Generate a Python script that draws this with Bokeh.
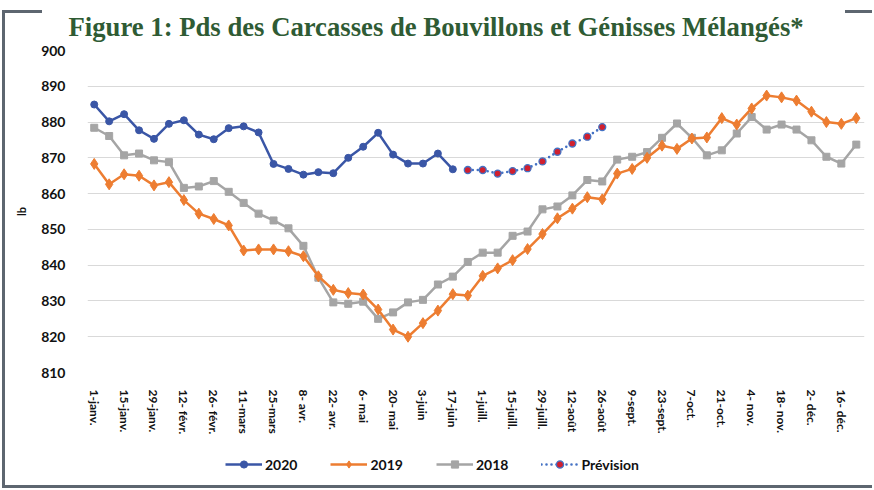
import numpy as np
from bokeh.plotting import figure
from bokeh.layouts import column
from bokeh.models import FixedTicker, Legend, LegendItem
from bokeh.embed import file_html
from bokeh.resources import INLINE

TITLE = "Figure 1: Pds des Carcasses de Bouvillons et Génisses Mélangés*"

tick_labels = ["1-janv.", "15-janv.", "29-janv.", "12- févr.", "26- févr.", "11-mars",
               "25-mars", "8- avr.", "22- avr.", "6- mai", "20- mai", "3-juin", "17-juin",
               "1-juill.", "15-juill.", "29-juill.", "12-août", "26-août", "9-sept.",
               "23-sept.", "7-oct.", "21-oct.", "4- nov.", "18- nov.", "2- déc.", "16- déc."]

y_ticks = [810, 820, 830, 840, 850, 860, 870, 880, 890, 900]

y2020 = [884.9, 880.2, 882.2, 877.7, 875.3, 879.5, 880.5, 876.5, 875.2, 878.3,
         878.8, 877.1, 868.3, 866.9, 865.3, 866.0, 865.7, 870.0, 873.1, 877.0,
         870.9, 868.4, 868.4, 871.2, 866.8]

prevision = [866.6, 866.6, 865.6, 866.3, 867.1, 869.0, 871.7, 874.0, 875.9, 878.6]

y2019 = [868.3, 862.6, 865.4, 865.0, 862.3, 863.2, 858.2, 854.4, 852.9, 851.1,
         844.1, 844.4, 844.4, 843.9, 842.5, 836.9, 833.1, 832.2, 831.8, 827.6,
         822.0, 820.0, 823.8, 827.3, 831.9, 831.5, 837.0, 839.1, 841.4, 844.5,
         848.7, 853.1, 855.8, 859.0, 858.4, 865.6, 866.9, 870.0, 873.4, 872.5,
         875.4, 875.7, 881.1, 879.3, 883.8, 887.4, 886.9, 886.0, 882.9, 880.0,
         879.5, 881.1]

y2018 = [878.4, 876.1, 870.7, 871.2, 869.3, 868.8, 861.6, 862.0, 863.5, 860.5,
         857.4, 854.4, 852.5, 850.3, 845.4, 836.5, 829.6, 829.2, 829.8, 825.0,
         826.8, 829.6, 830.3, 834.6, 836.8, 840.9, 843.5, 843.5, 848.2, 849.4,
         855.6, 856.4, 859.5, 863.8, 863.4, 869.5, 870.3, 871.6, 875.6, 879.6,
         875.6, 870.7, 872.1, 876.8, 881.4, 877.9, 879.3, 877.9, 874.9, 870.3,
         868.4, 873.7]

x2020 = list(range(len(y2020)))
x_prev = list(range(len(y2020), len(y2020) + len(prevision)))
x_all = list(range(len(y2019)))

BLUE = "#3a56a6"
ORANGE = "#ed7d31"
GRAY = "#a5a5a5"
PBLUE = "#4472c4"
RED = "#d0202f"
FRAME = "#5d6670"

W, H1, H2 = 872, 452, 36
FL, FT, FB, FR = 87, 49, 372, 864  # plot frame edges in canvas px

# outer frame drawn as CSS background bars behind transparent canvases
g = f"linear-gradient({FRAME},{FRAME})"
frame_css = {
    "background-image": ", ".join([g] * 4),
    "background-size": "3px 478px, 40px 3px, 27px 3px, 870px 3px",
    "background-position": "2px 10px, 2px 10px, 845px 10px, 2px 485px",
    "background-repeat": "no-repeat",
}

p = figure(width=W, height=H1, output_backend="svg", toolbar_location=None,
           x_range=(-0.45, len(y2019) - 0.45), y_range=(y_ticks[0], y_ticks[-1]),
           min_border_left=FL, min_border_right=W - FR, min_border_top=FT,
           min_border_bottom=H1 - FB)
p.outline_line_color = None
p.background_fill_color = "white"
p.border_fill_color = None

# Title
p.title.text = TITLE
p.title.align = "left"
p.title.offset = -19
p.title.standoff = 18
p.title.text_font = "Liberation Serif"
p.title.text_font_style = "bold"
p.title.text_font_size = "26.7px"
p.title.text_color = "#2f5b34"
p.title.background_fill_color = "white"

# Axes
p.yaxis.ticker = FixedTicker(ticks=y_ticks)
p.yaxis.axis_line_color = None
p.yaxis.major_tick_line_color = None
p.yaxis.minor_tick_line_color = None
p.yaxis.major_label_text_font = "Lato"
p.yaxis.major_label_text_font_style = "bold"
p.yaxis.major_label_text_font_size = "14px"
p.yaxis.major_label_text_color = "#111111"
p.yaxis.major_label_standoff = 16
p.yaxis.axis_label = "lb"
p.yaxis.axis_label_text_font = "Lato"
p.yaxis.axis_label_text_font_style = "bold"
p.yaxis.axis_label_text_font_size = "11px"
p.yaxis.axis_label_text_color = "#111111"
p.yaxis.axis_label_standoff = 10

p.xaxis.ticker = FixedTicker(ticks=list(range(0, 2 * len(tick_labels), 2)))
p.xaxis.major_label_overrides = {2 * i: t for i, t in enumerate(tick_labels)}
p.xaxis.major_label_orientation = "vertical"
p.xaxis.axis_line_color = None
p.xaxis.major_tick_line_color = None
p.xaxis.minor_tick_line_color = None
p.xaxis.major_label_text_font = "Lato"
p.xaxis.major_label_text_font_style = "bold"
p.xaxis.major_label_text_font_size = "12px"
p.xaxis.major_label_text_color = "#111111"
p.xaxis.major_label_standoff = 11

p.ygrid.grid_line_color = "#d9d9d9"
p.ygrid.grid_line_width = 1
p.xgrid.grid_line_color = None

# Series
line_styles = {
    "2018": dict(line_color=GRAY, line_width=2.5),
    "2019": dict(line_color=ORANGE, line_width=2.5),
    "2020": dict(line_color=BLUE, line_width=2.5),
    "Prévision": dict(line_color=PBLUE, line_width=2.6, line_dash="0 5", line_cap="round"),
}
marker_styles = {
    "2018": dict(marker="square", size=7, fill_color=GRAY, line_color=GRAY),
    "2019": dict(marker="diamond", size=11, fill_color=ORANGE, line_color=ORANGE),
    "2020": dict(marker="circle", size=7, fill_color=BLUE, line_color=BLUE),
    "Prévision": dict(marker="circle", size=7, fill_color=RED, line_color=PBLUE, line_width=1.3),
}
series = {"2018": (x_all, y2018), "2019": (x_all, y2019),
          "2020": (x2020, y2020), "Prévision": (x_prev, prevision)}
for name in ["2018", "2019", "2020", "Prévision"]:
    xs, ys = series[name]
    p.line(xs, ys, **line_styles[name])
    p.scatter(xs, ys, **marker_styles[name])

# Legend strip (separate canvas so it is not clipped by the plot frame).
# Its renderers hold the same series but lie outside its (0..1) ranges, so only
# the legend glyphs show.
p2 = figure(width=W, height=H2, output_backend="svg", toolbar_location=None,
            x_axis_type=None, y_axis_type=None, min_border=0,
            x_range=(0, 1), y_range=(0, 1))
p2.outline_line_color = None
p2.background_fill_color = None
p2.border_fill_color = None
p2.grid.grid_line_color = None
items = []
for name in ["2020", "2019", "2018", "Prévision"]:
    xs, ys = series[name]
    rl = p2.line(xs, ys, **line_styles[name])
    rm = p2.scatter(xs, ys, **marker_styles[name])
    items.append(LegendItem(label=name, renderers=[rl, rm]))
legend = Legend(items=items, orientation="horizontal", location=(225 - FL, 15),
                border_line_color=None, background_fill_alpha=0,
                label_text_font="Lato", label_text_font_style="bold",
                label_text_font_size="14px", label_text_color="#111111",
                glyph_width=37, glyph_height=18, label_height=18,
                label_standoff=3, spacing=33, padding=0, margin=0)
p2.add_layout(legend)

layout = column(p, p2, spacing=0, styles=frame_css)

open("out.html", "w").write(file_html(layout, INLINE))
